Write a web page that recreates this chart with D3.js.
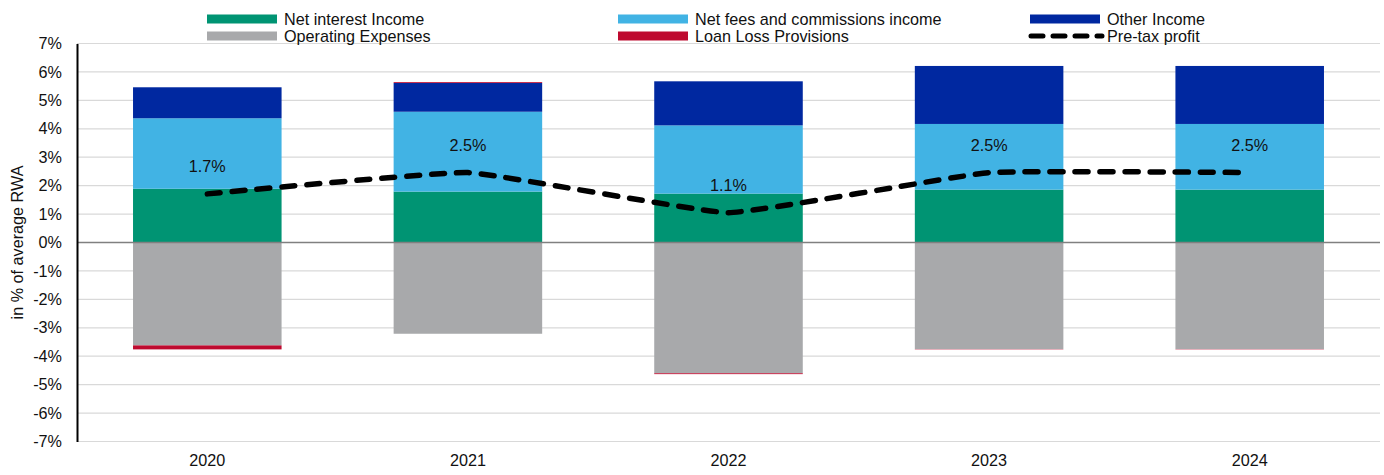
<!DOCTYPE html>
<html><head><meta charset="utf-8">
<script src="https://cdn.jsdelivr.net/npm/d3@7"></script>
<style>body{margin:0;background:#fff}svg{display:block;font-family:"Liberation Sans",Arial,sans-serif}</style>
</head><body><svg id="c" width="1384" height="475"></svg>
<script>
const years = ["2020","2021","2022","2023","2024"];
const netInterest = [1.89, 1.79, 1.72, 1.86, 1.86];
const netFees = [2.48, 2.81, 2.40, 2.31, 2.31];
const otherIncome = [1.09, 1.01, 1.55, 2.04, 2.04];
const opExpenses = [-3.62, -3.21, -4.60, -3.75, -3.75];
const loanLoss = [-0.14, 0.03, -0.03, -0.01, -0.01];
const preTax = [1.71, 2.46, 1.05, 2.46, 2.46];
const yTicks = [-7,-6,-5,-4,-3,-2,-1,0,1,2,3,4,5,6,7];

(function(){
const FS = 16.2;
const series = [
  {key:"nii", name:"Net interest Income", values:netInterest, color:"#009473"},
  {key:"fees", name:"Net fees and commissions income", values:netFees, color:"#41b3e4"},
  {key:"other", name:"Other Income", values:otherIncome, color:"#0028a0"},
  {key:"opex", name:"Operating Expenses", values:opExpenses, color:"#a8a9ab"},
  {key:"llp", name:"Loan Loss Provisions", values:loanLoss, color:"#be0a2f"}
];
const rows = years.map((yr,i)=>{const o={year:yr}; series.forEach(s=>o[s.key]=s.values[i]); return o;});

const svg = d3.select("#c");
const mLeft = 77, mRight = 1380, mTop = 43.5, mBottom = 441.5;
const x = d3.scaleBand().domain(years).range([mLeft,mRight]).paddingInner(0.43).paddingOuter(0.215);
const y = d3.scaleLinear().domain([-7,7]).range([mBottom,mTop]);

// gridlines
svg.append("g").selectAll("line").data(yTicks.filter(t=>t!==0)).join("line")
  .attr("x1",mLeft).attr("x2",mRight).attr("y1",d=>y(d)).attr("y2",d=>y(d))
  .attr("stroke","#d9d9d9").attr("stroke-width",1.2);

// stacked bars
const stack = d3.stack().keys(series.map(s=>s.key)).offset(d3.stackOffsetDiverging);
const stacked = stack(rows);
stacked.forEach((layer,li)=>{
  svg.append("g").selectAll("rect").data(layer).join("rect")
    .attr("x",d=>x(d.data.year)).attr("width",x.bandwidth())
    .attr("y",d=>y(Math.max(d[0],d[1]))).attr("height",d=>Math.abs(y(d[0])-y(d[1])))
    .attr("fill",series[li].color);
});

// zero line
svg.append("line").attr("x1",mLeft).attr("x2",mRight).attr("y1",y(0)).attr("y2",y(0))
  .attr("stroke","#808080").attr("stroke-width",1.3);

// y axis
const yAxis = d3.axisLeft(y).tickValues(yTicks).tickFormat(d=>d+"%").tickSize(0).tickPadding(15);
const ga = svg.append("g").attr("transform",`translate(${mLeft},0)`).call(yAxis);
ga.select(".domain").attr("stroke","#000").attr("stroke-width",2);
ga.selectAll("text").attr("font-size",FS).attr("fill","#111").attr("font-family","Liberation Sans, Arial, sans-serif");

// x axis labels
const xAxis = d3.axisBottom(x).tickSize(0).tickPadding(13);
const gx = svg.append("g").attr("transform",`translate(0,${mBottom})`).call(xAxis);
gx.select(".domain").remove();
gx.selectAll("text").attr("font-size",FS).attr("fill","#111").attr("font-family","Liberation Sans, Arial, sans-serif");

// y title
svg.append("text").attr("transform",`translate(23,${(mTop+mBottom)/2}) rotate(-90)`)
  .attr("text-anchor","middle").attr("font-size",FS).attr("fill","#111").text("in % of average RWA");

// pre-tax line
const cx = d=>x(d)+x.bandwidth()/2;
const line = d3.line().x((d,i)=>cx(years[i])).y(d=>y(d)).curve(d3.curveCardinal.tension(0.7));
svg.append("path").attr("d",line(preTax)).attr("fill","none").attr("stroke","#000")
  .attr("stroke-width",5.5).attr("stroke-linecap","round").attr("stroke-dasharray","13,12");

// labels
svg.append("g").selectAll("text").data(preTax).join("text")
  .attr("x",(d,i)=>cx(years[i])).attr("y",d=>y(d)-22)
  .attr("text-anchor","middle").attr("font-size",FS).attr("fill","#111")
  .text(d=>d3.format(".1f")(d)+"%");

// legend
const legendItems = [
  {s:series[0], lx:207, ly:19},
  {s:series[1], lx:618, ly:19},
  {s:series[2], lx:1030, ly:19},
  {s:series[3], lx:207, ly:36},
  {s:series[4], lx:618, ly:36},
  {s:{name:"Pre-tax profit", dashed:true}, lx:1030, ly:36}
];
const lg = svg.append("g");
legendItems.forEach(it=>{
  if(it.s.dashed){
    lg.append("line").attr("x1",it.lx+1).attr("x2",it.lx+72).attr("y1",it.ly).attr("y2",it.ly)
      .attr("stroke","#000").attr("stroke-width",5).attr("stroke-linecap","round").attr("stroke-dasharray","12,10");
  } else {
    lg.append("rect").attr("x",it.lx).attr("y",it.ly-4.5).attr("width",70).attr("height",9).attr("fill",it.s.color);
  }
  lg.append("text").attr("x",it.lx+77).attr("y",it.ly+5.5).attr("font-size",FS).attr("fill","#111").text(it.s.name);
});
})();
</script></body></html>
